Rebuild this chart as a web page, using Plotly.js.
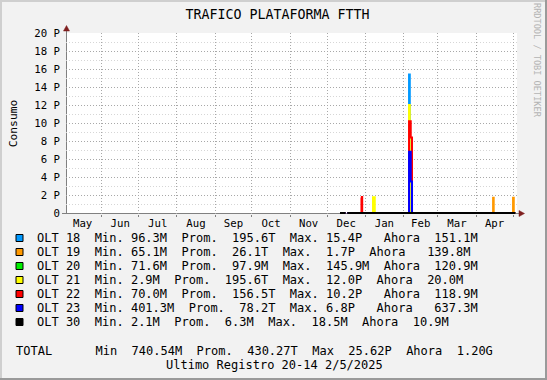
<!DOCTYPE html>
<html><head><meta charset="utf-8">
<script src="https://cdn.plot.ly/plotly-3.0.1.min.js"></script>
<style>html,body{margin:0;padding:0;background:#F2F2F2;overflow:hidden}#chart{width:547px;height:380px}</style>
</head><body><div id="chart"></div>
<script>
// ---------------- data ----------------
const seriesNames  = ['OLT 18','OLT 19','OLT 20','OLT 21','OLT 22','OLT 23','OLT 30'];
const seriesColors = ['#0099FF','#FF9900','#00EE00','#FFFF00','#FF0000','#0000FF','#000000'];

// values in P (peta); null = no data
const t18 = ['2024-12-11 12:00','2024-12-16 00:00','2024-12-16 12:00','2024-12-17 10:00','2025-02-05 13:00','2025-02-06 04:00','2025-05-02 20:14'];
const v18 = [0, 0, null, 0, 15.4, 0, 0];
const t19 = ['2024-12-11 12:00','2024-12-16 00:00','2024-12-16 12:00','2024-12-17 10:00','2025-04-14 19:00','2025-04-15 07:00','2025-05-01 00:00','2025-05-01 14:00','2025-05-02 20:14'];
const v19 = [0, 0, null, 0, 1.7, 0, 1.7, 0, 0];
const t20 = ['2024-12-11 12:00','2024-12-16 00:00','2024-12-16 12:00','2024-12-17 10:00','2025-05-02 20:14'];
const v20 = [0, 0, null, 0, 0];
const t21 = ['2024-12-11 12:00','2024-12-16 00:00','2024-12-16 12:00','2024-12-17 10:00','2025-01-07 07:00','2025-01-08 17:00','2025-02-05 13:00','2025-02-06 04:00','2025-05-02 20:14'];
const v21 = [0, 0, null, 0, 1.75, 0, 12.0, 0, 0];
const t22 = ['2024-12-11 12:00','2024-12-16 00:00','2024-12-16 12:00','2024-12-17 10:00','2024-12-28 22:00','2024-12-29 06:00','2024-12-29 12:00','2025-02-05 13:00','2025-02-06 22:00','2025-02-07 23:00','2025-05-02 20:14'];
const v22 = [0, 0, null, 0, 1.62, 1.78, 0, 10.2, 8.4, 0, 0];
const t23 = ['2024-12-11 12:00','2024-12-16 00:00','2024-12-16 12:00','2024-12-17 10:00','2025-02-05 13:00','2025-02-06 22:00','2025-02-07 23:00','2025-05-02 20:14'];
const v23 = [0, 0, null, 0, 6.8, 3.5, 0, 0];
const t30 = ['2024-12-11 12:00','2024-12-16 00:00','2024-12-16 12:00','2024-12-17 10:00','2025-05-02 20:14'];
const v30 = [0, 0, null, 0, 0];

const minVals = ['96.3M','65.1M','71.6M','2.9M','70.0M','401.3M','2.1M'];
const avgVals = ['195.6T','26.1T','97.9M','195.6T','156.5T','78.2T','6.3M'];
const maxVals = ['15.4P','1.7P','145.9M','12.0P','10.2P','6.8P','18.5M'];
const nowVals = ['151.1M','139.8M','120.9M','20.0M','118.9M','637.3M','10.9M'];
const totalVals = ['740.54M','430.27T','25.62P','1.20G'];

const yTickVals = [0,2,4,6,8,10,12,14,16,18,20];
const yTickText = ['0','2 P','4 P','6 P','8 P','10 P','12 P','14 P','16 P','18 P','20 P'];

const titleText = 'TRAFICO PLATAFORMA FTTH';
const yTitleText = 'Consumo';
const footerText = 'Ultimo Registro 20-14 2/5/2025';
const watermarkText = 'RRDTOOL / TOBI OETIKER';

// ---------------- layout helpers ----------------
const MONO = 'DejaVu Sans Mono, monospace';
const NB = '\u00A0';
const L = 66, T = 33, W = 451, H = 181;
const X = px => (px - L) / W;
const Y = py => (T + H - py) / H;

const times = [t18,t19,t20,t21,t22,t23,t30];
const vals  = [v18,v19,v20,v21,v22,v23,v30];
const traces = times.map((t, i) => ({
  type: 'scatter', mode: 'lines', x: t, y: vals[i], name: seriesNames[i],
  line: {shape: 'hv', width: 2, color: seriesColors[i]},
  connectgaps: false, hoverinfo: 'skip', showlegend: false
}));

const shapes = [];
const annotations = [];
function line(x0,y0,x1,y1,color,w,layer){
  shapes.push({type:'line',xref:'paper',yref:'paper',x0:X(x0),y0:Y(y0),x1:X(x1),y1:Y(y1),
    line:{color:color,width:w},layer:layer||'above'});
}
function tri(pts,color){
  const p = pts.map((q,k)=>(k?'L':'M')+X(q[0])+','+Y(q[1])).join(' ')+' Z';
  shapes.push({type:'path',xref:'paper',yref:'paper',path:p,fillcolor:color,line:{color:color,width:0.5},layer:'above'});
}
function txt(s,px,py,size,opts){
  annotations.push(Object.assign({text:s,xref:'paper',yref:'paper',x:X(px),y:Y(py),
    xanchor:'left',yanchor:'middle',align:'left',showarrow:false,borderpad:0,borderwidth:0,
    font:{family:MONO,size:size,color:'#000'}},opts||{}));
}
function padRow(tokens, cols){
  let s = '';
  tokens.forEach((tk,k)=>{ while(s.length < cols[k]) s += NB; if(k && s.length===cols[k] && s[s.length-1]!==NB) s+=NB; s += tk; });
  return s;
}

// axes lines + arrows
line(66.5,214,66.5,29,'#808080',1,'below');
line(62,213.5,519,213.5,'#808080',1,'below');
tri([[66.5,25.5],[63.5,31],[69.5,31]],'#7F1F1F');
tri([[524.5,213.5],[519,210.5],[519,216.5]],'#7F1F1F');

// frame
line(0,1,547,1,'#CFCFCF',2);
line(1,0,1,380,'#CFCFCF',2);
line(0,379,547,379,'#9A9A9A',2);
line(546,0,546,380,'#9A9A9A',2);

// legend (monospace columns)
const rowCols = [
  [0,8,13,20,27,35,40,48,55],
  [0,8,13,20,27,34,40,46,54],
  [0,8,13,20,27,34,40,48,55],
  [0,8,13,19,26,34,40,47,54],
  [0,8,13,20,27,35,40,48,55],
  [0,8,13,21,28,35,40,47,55],
  [0,8,13,19,26,32,38,45,52]
];
seriesNames.forEach((n,i)=>{
  const cy = 238 + 14*i;
  shapes.push({type:'rect',xref:'paper',yref:'paper',x0:X(16),x1:X(23),y0:Y(cy-3.5),y1:Y(cy+3.5),
    fillcolor:seriesColors[i],line:{color:'#000',width:1},layer:'above'});
  const tok = [n,'Min.',minVals[i],'Prom.',avgVals[i],'Max.',maxVals[i],'Ahora',nowVals[i]];
  txt(padRow(tok,rowCols[i]),36.7,cy,12);
});
const totTok = ['TOTAL','Min',totalVals[0],'Prom.',totalVals[1],'Max',totalVals[2],'Ahora',totalVals[3]];
txt(padRow(totTok,[0,11,16,25,32,41,46,54,61]),15.5,351,12);
txt(footerText,274.3,364.8,12,{xanchor:'center',align:'center'});
txt(watermarkText,537.5,60.5,8.6,{xanchor:'center',align:'center',textangle:90,font:{family:MONO,size:8.6,color:'#B4B4B4'}});

const layout = {
  width:547, height:380,
  margin:{l:L, r:547-L-W, t:T, b:380-T-H, pad:0},
  paper_bgcolor:'#F2F2F2', plot_bgcolor:'#FFFFFF',
  title:{text:titleText, x:277.5/547, xanchor:'center', y:1-14.3/380, yanchor:'middle',
    font:{family:MONO,size:13.3,color:'#000'}},
  xaxis:{type:'date', range:['2024-05-03 00:00','2025-05-04 05:00'],
    tick0:'2024-05-01', dtick:'M1', tickformat:'%b', ticklabelmode:'period',
    showgrid:true, gridcolor:'#A8A8A8', griddash:'1px,2px', gridwidth:1,
    ticks:'outside', ticklen:2, tickcolor:'#808080', tickwidth:1, ticklabelstandoff:-3,
    tickfont:{family:MONO,size:10.7,color:'#000'},
    showline:false, zeroline:false, fixedrange:true},
  yaxis:{range:[-0.111,20], tickmode:'array', tickvals:yTickVals, ticktext:yTickText,
    showgrid:true, gridcolor:'#A8A8A8', griddash:'1px,2px', gridwidth:1,
    minor:{tickmode:'linear', tick0:0, dtick:1, showgrid:true, gridcolor:'#D6D6D6', griddash:'1px,2px', gridwidth:1},
    ticks:'', showline:false, zeroline:false, fixedrange:true, ticklabelstandoff:5,
    tickfont:{family:MONO,size:10.7,color:'#000'},
    title:{text:yTitleText, standoff:14, font:{family:MONO,size:11.3,color:'#000'}}},
  shapes:shapes, annotations:annotations, showlegend:false
};

Plotly.newPlot('chart', traces, layout, {staticPlot:true, displayModeBar:false});
</script></body></html>
